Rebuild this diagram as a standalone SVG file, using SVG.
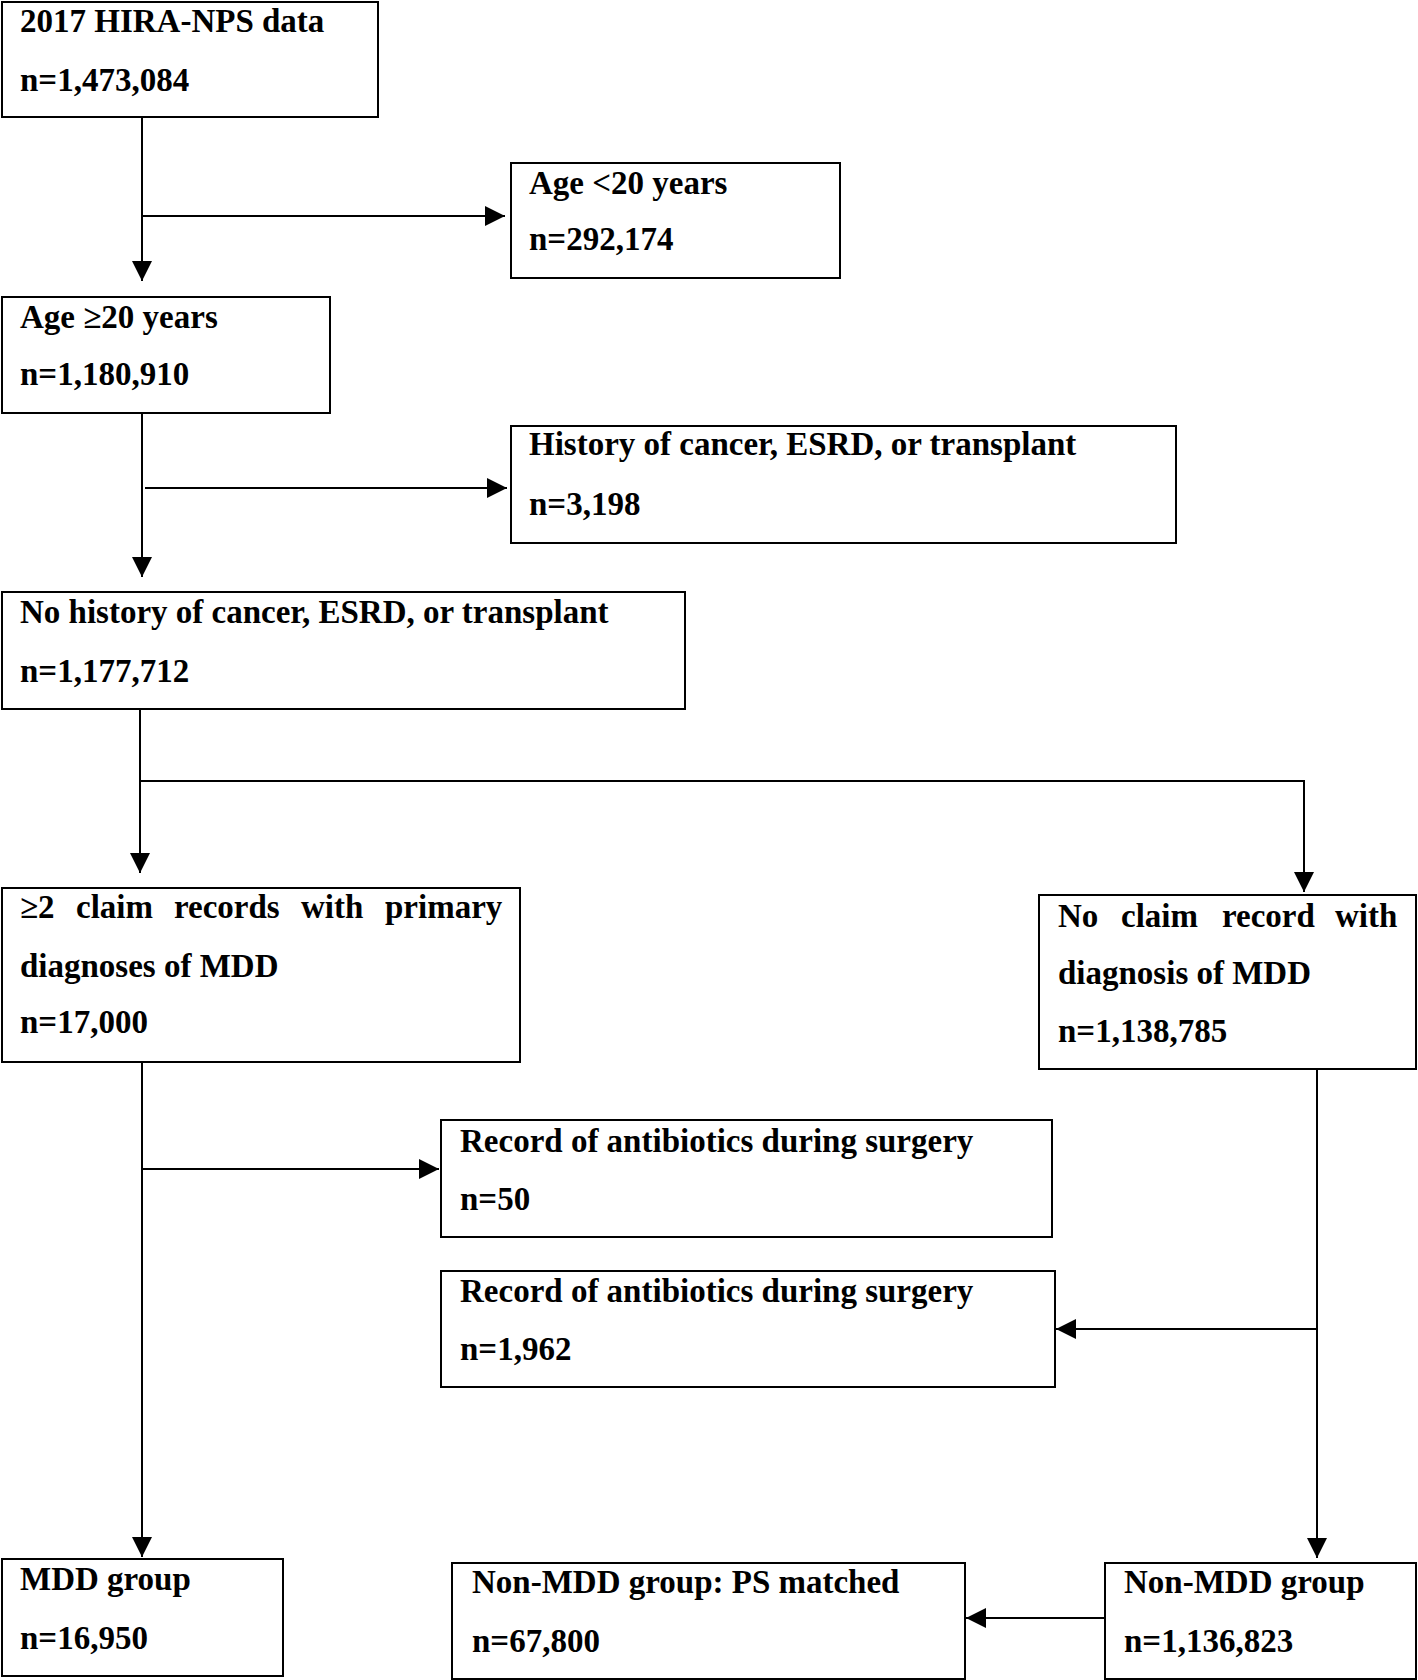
<svg xmlns="http://www.w3.org/2000/svg" width="1418" height="1680" viewBox="0 0 1418 1680">
<style>
.box{fill:#fff;stroke:#000;stroke-width:2}
.t{font-family:"Liberation Serif","Times New Roman",serif;font-weight:bold;font-size:33px;fill:#000}
.c{fill:none;stroke:#000;stroke-width:2}
</style>
<defs>
<marker id="ah" markerUnits="userSpaceOnUse" markerWidth="20" markerHeight="20" refX="20" refY="10" orient="auto">
<path d="M0,0 L20,10 L0,20 z" fill="#000"/>
</marker>
</defs>
<rect width="1418" height="1680" fill="#fff"/>
<g id="connectors">
<path class="c" d="M142,117 V281" marker-end="url(#ah)"/>
<path class="c" d="M142,216 H505" marker-end="url(#ah)"/>
<path class="c" d="M142,413 V577" marker-end="url(#ah)"/>
<path class="c" d="M145,488 H507" marker-end="url(#ah)"/>
<path class="c" d="M140,709 V873" marker-end="url(#ah)"/>
<path class="c" d="M140,781 H1304 V892" marker-end="url(#ah)"/>
<path class="c" d="M142,1062 V1557" marker-end="url(#ah)"/>
<path class="c" d="M142,1169 H439" marker-end="url(#ah)"/>
<path class="c" d="M1317,1069 V1558" marker-end="url(#ah)"/>
<path class="c" d="M1317,1329 H1056" marker-end="url(#ah)"/>
<path class="c" d="M1105,1618 H966" marker-end="url(#ah)"/>
</g>
<g id="n1">
<rect class="box" x="2" y="2" width="376" height="115"/>
<text class="t" x="20" y="32">2017 HIRA-NPS data</text>
<text class="t" x="20" y="91">n=1,473,084</text>
</g>
<g id="n2">
<rect class="box" x="511" y="163" width="329" height="115"/>
<text class="t" x="529" y="194">Age &lt;20 years</text>
<text class="t" x="529" y="250">n=292,174</text>
</g>
<g id="n3">
<rect class="box" x="2" y="297" width="328" height="116"/>
<text class="t" x="20" y="328">Age ≥20 years</text>
<text class="t" x="20" y="385">n=1,180,910</text>
</g>
<g id="n4">
<rect class="box" x="511" y="426" width="665" height="117"/>
<text class="t" x="529" y="455">History of cancer, ESRD, or transplant</text>
<text class="t" x="529" y="515">n=3,198</text>
</g>
<g id="n5">
<rect class="box" x="2" y="592" width="683" height="117"/>
<text class="t" x="20" y="623">No history of cancer, ESRD, or transplant</text>
<text class="t" x="20" y="682">n=1,177,712</text>
</g>
<g id="n6">
<rect class="box" x="2" y="888" width="518" height="174"/>
<text class="t" y="918"><tspan x="20">≥2</tspan><tspan x="76">claim</tspan><tspan x="174">records</tspan><tspan x="301">with</tspan><tspan x="385">primary</tspan></text>
<text class="t" x="20" y="977">diagnoses of MDD</text>
<text class="t" x="20" y="1033">n=17,000</text>
</g>
<g id="n7">
<rect class="box" x="1039" y="895" width="377" height="174"/>
<text class="t" y="927"><tspan x="1058">No</tspan><tspan x="1121">claim</tspan><tspan x="1222">record</tspan><tspan x="1335">with</tspan></text>
<text class="t" x="1058" y="984">diagnosis of MDD</text>
<text class="t" x="1058" y="1042">n=1,138,785</text>
</g>
<g id="n8">
<rect class="box" x="441" y="1120" width="611" height="117"/>
<text class="t" x="460" y="1152">Record of antibiotics during surgery</text>
<text class="t" x="460" y="1210">n=50</text>
</g>
<g id="n9">
<rect class="box" x="441" y="1271" width="614" height="116"/>
<text class="t" x="460" y="1302">Record of antibiotics during surgery</text>
<text class="t" x="460" y="1360">n=1,962</text>
</g>
<g id="n10">
<rect class="box" x="2" y="1559" width="281" height="117"/>
<text class="t" x="20" y="1590">MDD group</text>
<text class="t" x="20" y="1649">n=16,950</text>
</g>
<g id="n11">
<rect class="box" x="452" y="1563" width="513" height="116"/>
<text class="t" x="472" y="1593">Non-MDD group: PS matched</text>
<text class="t" x="472" y="1652">n=67,800</text>
</g>
<g id="n12">
<rect class="box" x="1105" y="1563" width="311" height="116"/>
<text class="t" x="1124" y="1593">Non-MDD group</text>
<text class="t" x="1124" y="1652">n=1,136,823</text>
</g>
</svg>
